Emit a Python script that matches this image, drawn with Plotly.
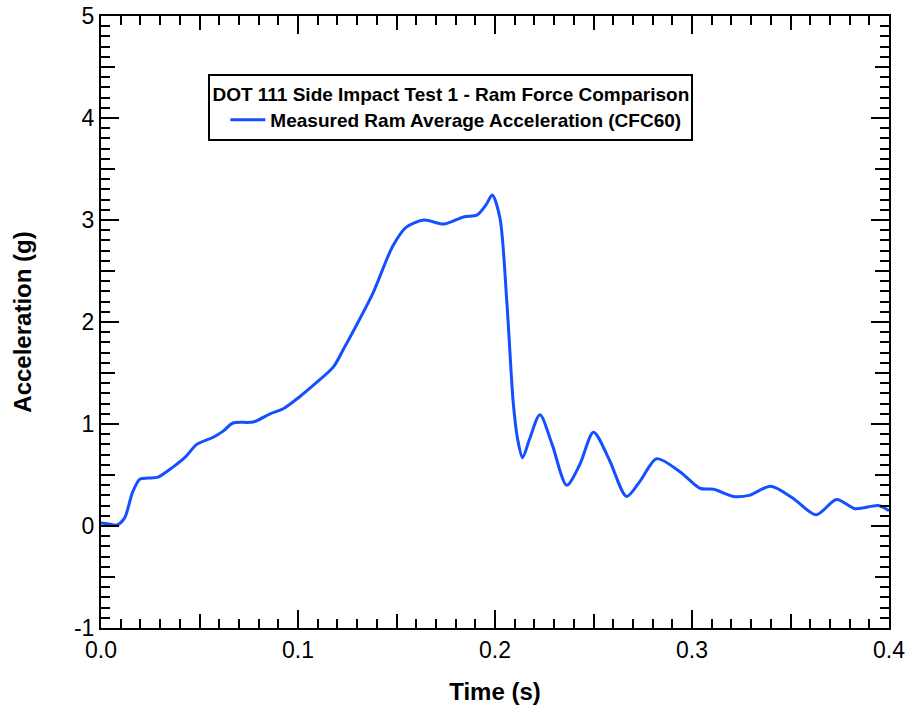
import plotly.graph_objects as go

# Ram average acceleration, CFC60 filtered
time_s = [0, 0.004, 0.008, 0.012, 0.016, 0.0198, 0.024, 0.029, 0.0367, 0.043,
          0.0486, 0.057, 0.062, 0.067, 0.0773, 0.0858, 0.0925, 0.101, 0.109, 0.118,
          0.123, 0.130, 0.138, 0.148, 0.155, 0.164, 0.174, 0.184, 0.191, 0.1955,
          0.1986, 0.2025, 0.206, 0.2093, 0.2115, 0.214, 0.2175, 0.2228, 0.229, 0.2364,
          0.243, 0.25, 0.258, 0.2668, 0.274, 0.282, 0.294, 0.304, 0.311, 0.321,
          0.329, 0.34, 0.3514, 0.363, 0.3734, 0.3827, 0.3946, 0.4]
accel_g = [0.03, 0.02, 0.01, 0.08, 0.33, 0.46, 0.47, 0.48, 0.58, 0.68,
           0.80, 0.87, 0.93, 1.01, 1.02, 1.10, 1.15, 1.27, 1.40, 1.56,
           1.73, 1.98, 2.28, 2.74, 2.93, 3.00, 2.96, 3.03, 3.05, 3.15,
           3.245, 3.02, 2.2, 1.2, 0.85, 0.67, 0.85, 1.09, 0.80, 0.40,
           0.60, 0.92, 0.65, 0.29, 0.45, 0.66, 0.53, 0.37, 0.36, 0.29,
           0.30, 0.39, 0.27, 0.11, 0.26, 0.17, 0.20, 0.15]

x_range = [0, 0.4]
y_range = [-1, 5]
x_tickvals = [0.0, 0.1, 0.2, 0.3, 0.4]
x_ticktext = ["0.0", "0.1", "0.2", "0.3", "0.4"]
y_tickvals = [-1, 0, 1, 2, 3, 4, 5]
y_ticktext = ["-1", "0", "1", "2", "3", "4", "5"]
legend_title = "DOT 111 Side Impact Test 1 - Ram Force Comparison"
series_name = "Measured Ram Average Acceleration (CFC60)"

FONT = "Liberation Sans, Arial, sans-serif"

fig = go.Figure()
fig.add_trace(go.Scatter(
    x=time_s, y=accel_g, mode="lines", name=series_name,
    line=dict(color="#1450ff", width=3, shape="spline", smoothing=0.8),
))
# helper trace so the secondary (mid-tick) axes are drawn
fig.add_trace(go.Scatter(x=x_range, y=y_range, xaxis="x2", yaxis="y2",
                         mode="markers", marker=dict(opacity=0),
                         showlegend=False, hoverinfo="skip"))

common = dict(showgrid=False, zeroline=False, showline=True, linecolor="black",
              linewidth=2, ticks="inside", tickcolor="black", tickwidth=2,
              mirror="ticks", automargin=False,
              tickfont=dict(family=FONT, size=23, color="black"))

mid = dict(showticklabels=False, showgrid=False, zeroline=False, ticks="inside",
           tickcolor="black", tickwidth=2, ticklen=14, mirror="ticks",
           showline=True, linecolor="black", linewidth=2, automargin=False,
           tickmode="linear", tick0=0)

fig.update_layout(
    width=907, height=713,
    margin=dict(l=101, r=18, t=16, b=85),
    paper_bgcolor="white", plot_bgcolor="white",
    font=dict(family=FONT, color="black"),
    xaxis=dict(range=x_range, tickmode="array", tickvals=x_tickvals, ticktext=x_ticktext,
               ticklen=18,
               minor=dict(tickmode="linear", tick0=0, dtick=0.01, ticklen=9, tickwidth=2,
                          tickcolor="black", ticks="inside"),
               title=dict(text="<b>Time (s)</b>", font=dict(family=FONT, size=24), standoff=22),
               **common),
    yaxis=dict(range=y_range, tickmode="array", tickvals=y_tickvals, ticktext=y_ticktext,
               ticklen=18,
               minor=dict(tickmode="linear", tick0=0, dtick=0.1, ticklen=9, tickwidth=2,
                          tickcolor="black", ticks="inside"),
               title=dict(text="<b>Acceleration (g)</b>", font=dict(family=FONT, size=24), standoff=36),
               **common),
    xaxis2=dict(range=x_range, overlaying="x", anchor="y2", dtick=0.05, **mid),
    yaxis2=dict(range=y_range, overlaying="y", anchor="x2", dtick=0.5, **mid),
    legend=dict(x=0.444, y=0.905, xanchor="center", yanchor="top",
                bgcolor="white", bordercolor="black", borderwidth=2,
                font=dict(family=FONT, size=19, color="black", weight="bold"),
                title=dict(text="<b>" + legend_title + "</b>", side="top center",
                           font=dict(family=FONT, size=19, color="black")),
                itemwidth=35, indentation=15, tracegroupgap=0),
    showlegend=True,
)

fig.write_html("out.html")
